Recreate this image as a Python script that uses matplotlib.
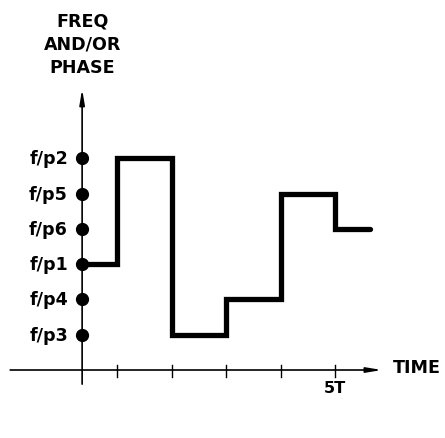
import matplotlib
matplotlib.use("Agg")
import matplotlib.pyplot as plt

# step times (units of T) and frequency/phase levels
t_origin = 0.36
step_times = [t_origin, 1, 2, 3, 4, 5, 5.64]
step_levels = [3, 6, 1, 2, 5, 4, 4]

level_labels = ["f/p3", "f/p4", "f/p1", "f/p6", "f/p5", "f/p2"]
level_values = [1, 2, 3, 4, 5, 6]

tick_times = [1, 2, 3, 4, 5]
tick_text = {5: "5T"}

plt.rcParams["font.family"] = ["DejaVu Sans"]
FS = 12.6

fig = plt.figure(figsize=(4.45, 4.39), dpi=100)
ax = fig.add_axes([0, 0, 1, 1])
ax.set_xlim(-1.147, 7.018)
ax.set_ylim(-1.926, 10.51)
ax.axis("off")

# axes with arrow heads
arrow = dict(arrowstyle="-|>,head_length=0.9,head_width=0.15",
             lw=1.2, color="black", shrinkA=0, shrinkB=0)
ax.annotate("", xy=(5.86, 0), xytext=(-0.96, 0), arrowprops=arrow)
ax.annotate("", xy=(t_origin, 7.96), xytext=(t_origin, -0.40), arrowprops=arrow)

# x ticks
for t in tick_times:
    ax.plot([t, t], [-0.2, 0.15], color="black", lw=1.0)
    if t in tick_text:
        ax.text(t, -0.5, tick_text[t], ha="center", va="center",
                fontsize=FS - 1, fontweight="bold")
ax.text(6.06, 0.08, "TIME", ha="left", va="center", fontsize=FS, fontweight="bold")

# level markers and labels
ax.plot([t_origin] * len(level_values), level_values, "o", color="black", ms=8.5)
for lab, v in zip(level_labels, level_values):
    ax.text(t_origin - 0.26, v, lab, ha="right", va="center",
            fontsize=FS, fontweight="bold")

ax.text(t_origin, 9.24, "FREQ\nAND/OR\nPHASE", ha="center", va="center",
        fontsize=FS, fontweight="bold", linespacing=1.4)

# the stepped frequency/phase signal
ax.step(step_times, step_levels, where="post", color="black", lw=3.8,
        solid_joinstyle="miter", solid_capstyle="round")

fig.savefig("out.png", dpi=100)
